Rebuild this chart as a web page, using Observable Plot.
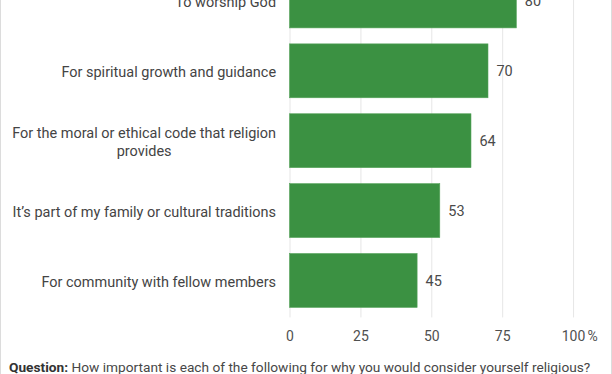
<!DOCTYPE html>
<html>
<head>
<meta charset="utf-8">
<script src="https://cdn.jsdelivr.net/npm/d3@7"></script>
<script src="https://cdn.jsdelivr.net/npm/@observablehq/plot@0.6"></script>
<style>
  html, body { margin: 0; padding: 0; background: #fff; }
  #frame {
    position: relative; width: 612px; height: 374px; overflow: hidden;
    box-sizing: border-box; border-left: 1px solid #dcdcdc; border-right: 1px solid #dcdcdc;
    font-family: Roboto, sans-serif;
  }
  #chart { position: absolute; left: -1px; top: -36px; }
  #caption {
    position: absolute; left: 8px; top: 359px; font-size: 13.7px; color: #474747;
    font-family: Roboto, sans-serif; white-space: nowrap;
  }
  #caption b { font-weight: 700; color: #333; }
</style>
</head>
<body>
<div id="frame">
  <div id="chart"></div>
  <div id="caption"><b>Question:</b> How important is each of the following for why you would consider yourself religious?</div>
</div>
<script>
const reasons = [
  "To worship God",
  "For spiritual growth and guidance",
  "For the moral or ethical code that religion\nprovides",
  "It\u2019s part of my family or cultural traditions",
  "For community with fellow members"
];
const shares = [80, 70, 64, 53, 45];
const ticks = [0, 25, 50, 75, 100];

const data = reasons.map((r, i) => ({reason: r, value: shares[i]}));

const plot = Plot.plot({
  width: 612,
  height: 394,
  marginTop: 0,
  marginBottom: 40,
  marginLeft: 290,
  marginRight: 38,
  style: {fontFamily: "Roboto, sans-serif", fontSize: "14px", background: "transparent"},
  x: {domain: [0, 100], axis: null},
  y: {domain: reasons, paddingInner: 0.23, paddingOuter: 0.11, axis: null},
  marks: [
    Plot.ruleX(ticks, {stroke: "#e6e6e6", strokeWidth: 1}),
    Plot.barX(data, {x: "value", y: "reason", fill: "#3b9142", stroke: "#55a35b", strokeWidth: 0.6}),
    Plot.text(data, {x: "value", y: "reason", text: d => String(d.value), textAnchor: "start", dx: 8, fill: "#4a4a4a", fontSize: 14.5}),
    Plot.text(data, {x: 0, y: "reason", text: "reason", textAnchor: "end", dx: -14, fill: "#444", fontSize: 14.5, lineHeight: 1.24, className: "ylab"}),
    Plot.axisX(ticks, {tickSize: 0, tickPadding: 13, tickFormat: d => String(d), fill: "#505050", fontSize: 14, label: null}),
    Plot.text(["%"], {x: () => 100, frameAnchor: "bottom", textAnchor: "start", lineAnchor: "top", dx: 14, dy: 13, fill: "#505050", fontSize: 14})
  ]
});
document.getElementById("chart").appendChild(plot);

// centre multi-line category labels inside their right-aligned block
plot.querySelectorAll(".ylab text").forEach(t => {
  const spans = t.querySelectorAll("tspan");
  if (spans.length > 1) {
    const w = t.getBBox().width;
    t.setAttribute("text-anchor", "middle");
    spans.forEach(s => s.setAttribute("x", -w / 2));
  }
});
</script>
</body>
</html>
